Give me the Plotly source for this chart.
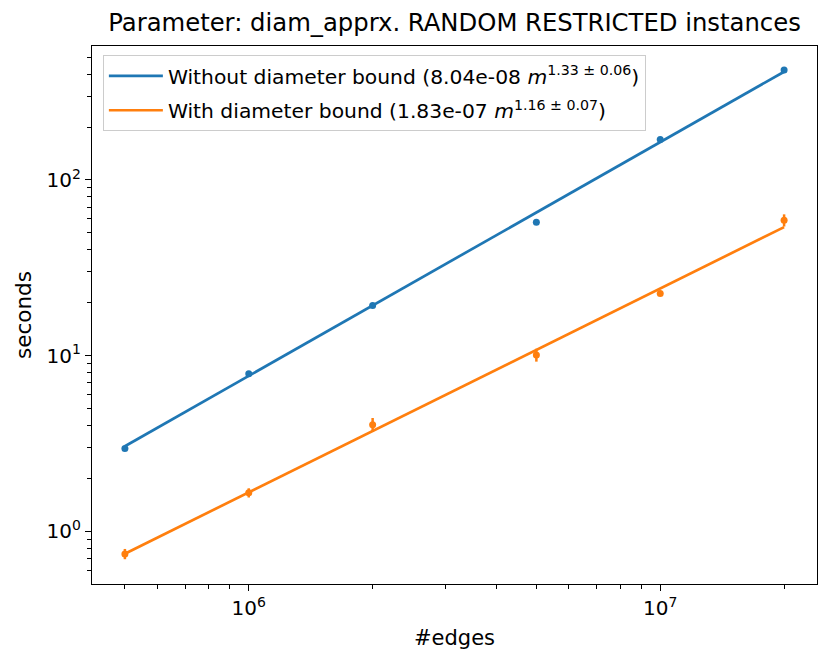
import numpy as np
import plotly.graph_objects as go

# Data
edges = [5e5, 1e6, 2e6, 5e6, 1e7, 2e7]

without_secs = [2.96, 7.9, 19.3, 57.5, 170.0, 422.0]
without_err = [0.03, 0.08, 0.2, 0.6, 2.0, 5.0]

with_secs = [0.745, 1.66, 4.05, 10.1, 22.6, 59.0]
with_err = [0.05, 0.10, 0.37, 0.85, 0.4, 4.7]

# Fit parameters (from the legend)
without_coef, without_exp, without_exp_err = 8.04e-08, 1.33, 0.06
with_coef, with_exp, with_exp_err = 1.83e-07, 1.16, 0.07

x_tickvals = [1e6, 1e7]
x_ticktext = ["10<sup>6</sup>", "10<sup>7</sup>"]
y_tickvals = [1, 10, 100]
y_ticktext = ["10<sup>0</sup>", "10<sup>1</sup>", "10<sup>2</sup>"]

BLUE = "#1f77b4"
ORANGE = "#ff7f0e"
FONT = "DejaVu Sans"

x_arr = np.array(edges)
fit_without = without_coef * x_arr ** without_exp
fit_with = with_coef * x_arr ** with_exp

fig = go.Figure()

fig.add_trace(go.Scatter(
    x=edges, y=without_secs, mode="markers",
    marker=dict(color=BLUE, size=7),
    error_y=dict(type="data", array=without_err, color=BLUE, thickness=2.5, width=0),
    showlegend=False, hoverinfo="x+y"))
fig.add_trace(go.Scatter(
    x=edges, y=with_secs, mode="markers",
    marker=dict(color=ORANGE, size=7),
    error_y=dict(type="data", array=with_err, color=ORANGE, thickness=2.5, width=0),
    showlegend=False, hoverinfo="x+y"))

fig.add_trace(go.Scatter(
    x=edges, y=fit_without, mode="lines",
    line=dict(color=BLUE, width=2.7), legendgroup="a",
    name=f"Without diameter bound ({without_coef:.2e} <i>m</i><sup>{without_exp:.2f} ± {without_exp_err:.2f}</sup>)"))
fig.add_trace(go.Scatter(
    x=edges, y=fit_with, mode="lines",
    line=dict(color=ORANGE, width=2.7), legendgroup="b",
    name=f"With diameter bound ({with_coef:.2e} <i>m</i><sup>{with_exp:.2f} ± {with_exp_err:.2f}</sup>)"))

minor_x = [m * 10 ** d for d in range(5, 8) for m in range(2, 10)]
minor_y = [m * 10 ** d for d in range(-1, 3) for m in range(2, 10)]

axis_common = dict(
    showline=True, linecolor="black", linewidth=1.4, mirror=True,
    ticks="outside", ticklen=6, tickwidth=1.4, tickcolor="black",
    showgrid=False, zeroline=False, automargin=False,
    tickfont=dict(family=FONT, size=20, color="black"),
)

fig.update_xaxes(
    type="log", range=[5.619, 7.381],
    tickvals=x_tickvals, ticktext=x_ticktext,
    minor=dict(tickvals=minor_x, ticks="outside", ticklen=3.5, tickwidth=1.2, tickcolor="black", showgrid=False),
    title=dict(text="#edges", font=dict(family=FONT, size=21, color="black"), standoff=11),
    **axis_common)
fig.update_yaxes(
    type="log", range=[-0.299, 2.762],
    tickvals=y_tickvals, ticktext=y_ticktext,
    minor=dict(tickvals=minor_y, ticks="outside", ticklen=3.5, tickwidth=1.2, tickcolor="black", showgrid=False),
    title=dict(text="seconds", font=dict(family=FONT, size=21.5, color="black"), standoff=8),
    **axis_common)

W, H = 815, 647
fig.update_layout(
    width=W, height=H,
    margin=dict(l=84, r=6, t=38, b=71, autoexpand=False),
    paper_bgcolor="white", plot_bgcolor="white",
    font=dict(family=FONT, size=20, color="black"),
    title=dict(text="Parameter: diam_apprx. RANDOM RESTRICTED instances",
               x=0.5, xref="paper", xanchor="center",
               y=1 - 14 / H, yref="container", yanchor="middle",
               font=dict(family=FONT, size=24.3, color="black"), automargin=False),
    legend=dict(x=0.015, y=0.983, xanchor="left", yanchor="top",
                bgcolor="rgba(255,255,255,0.8)", bordercolor="#cccccc", borderwidth=1,
                itemwidth=54, tracegroupgap=5,
                font=dict(family=FONT, size=20.3, color="black")),
)

fig.write_html("out.html")
